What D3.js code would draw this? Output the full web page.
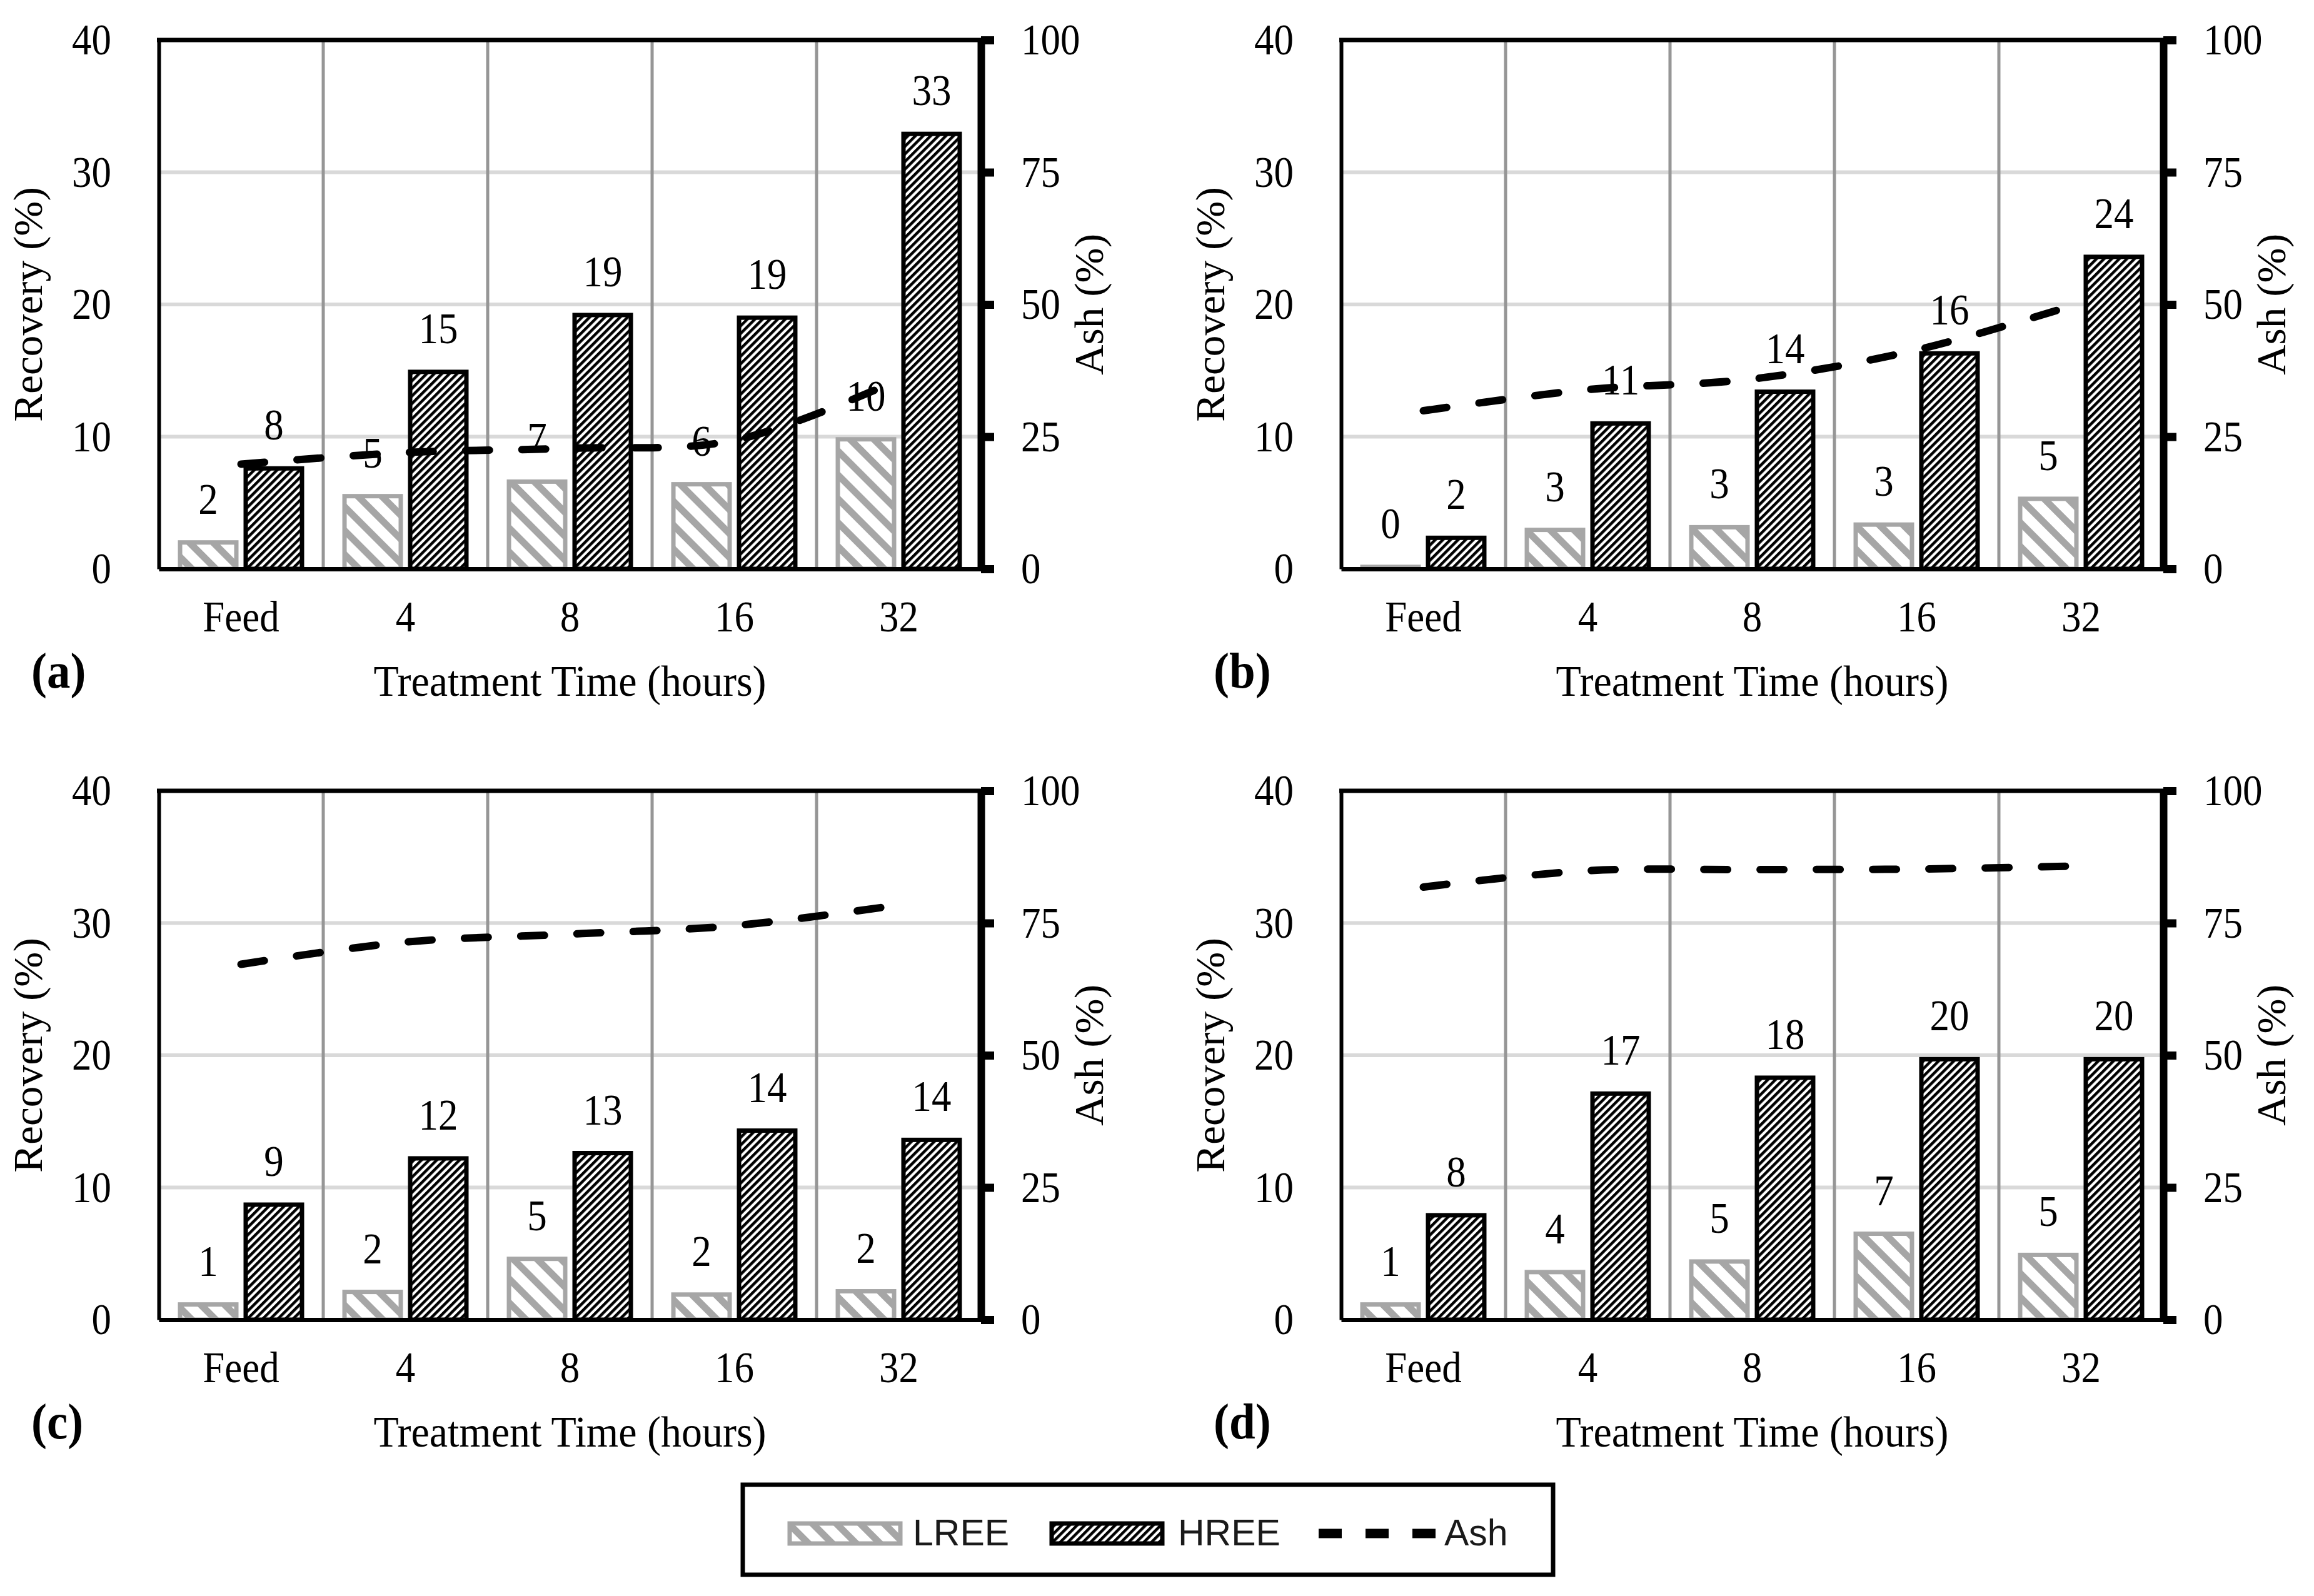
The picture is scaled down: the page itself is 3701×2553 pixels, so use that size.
<!DOCTYPE html>
<html>
<head>
<meta charset="utf-8">
<script src="https://cdn.jsdelivr.net/npm/d3@7"></script>
<style>
  body { margin: 0; background: #fff; }
  svg { display: block; }
</style>
</head>
<body>
<div id="canvas"></div>
<script>
// ---- data ----
const categories = ["Feed", "4", "8", "16", "32"];
const series = ["LREE", "HREE"];
const recoveryTicks = [0, 10, 20, 30, 40];
const ashTicks = [0, 25, 50, 75, 100];
const panelNames = ["(a)", "(b)", "(c)", "(d)"];

const lreeA = [2.0, 5.5, 6.6, 6.4, 9.8];
const hreeA = [7.6, 14.9, 19.2, 19.0, 32.9];
const ashA = [19.8, 22.0, 22.8, 24.3, 35.8];
const lreeLabelA = ["2", "5", "7", "6", "10"];
const hreeLabelA = ["8", "15", "19", "19", "33"];

const lreeB = [0.15, 2.95, 3.15, 3.35, 5.3];
const hreeB = [2.35, 11.0, 13.4, 16.3, 23.6];
const ashB = [29.9, 33.9, 35.9, 41.4, 50.3];
const lreeLabelB = ["0", "3", "3", "3", "5"];
const hreeLabelB = ["2", "11", "14", "16", "24"];

const lreeC = [1.15, 2.1, 4.6, 1.9, 2.15];
const hreeC = [8.7, 12.2, 12.6, 14.3, 13.6];
const ashC = [67.2, 71.4, 72.9, 74.5, 78.4];
const lreeLabelC = ["1", "2", "5", "2", "2"];
const hreeLabelC = ["9", "12", "13", "14", "14"];

const lreeD = [1.15, 3.6, 4.4, 6.5, 4.9];
const hreeD = [7.9, 17.1, 18.3, 19.7, 19.7];
const ashD = [81.8, 84.9, 85.1, 85.2, 85.8];
const lreeLabelD = ["1", "4", "5", "7", "5"];
const hreeLabelD = ["8", "17", "18", "20", "20"];

const panels = [
  { name: panelNames[0], col: 0, row: 0, LREE: lreeA, HREE: hreeA, ash: ashA, labels: { LREE: lreeLabelA, HREE: hreeLabelA } },
  { name: panelNames[1], col: 1, row: 0, LREE: lreeB, HREE: hreeB, ash: ashB, labels: { LREE: lreeLabelB, HREE: hreeLabelB } },
  { name: panelNames[2], col: 0, row: 1, LREE: lreeC, HREE: hreeC, ash: ashC, labels: { LREE: lreeLabelC, HREE: hreeLabelC } },
  { name: panelNames[3], col: 1, row: 1, LREE: lreeD, HREE: hreeD, ash: ashD, labels: { LREE: lreeLabelD, HREE: hreeLabelD } }
];

// ---- layout ----
const width = 3701, height = 2553;
const pLeft = 254, pRight = 1569, pTop = 64, pBottom = 910;
const dx = 1891, dy = 1201;
const K = 1.12; // the figure's text is a bit taller than wide
const serif = "'Liberation Serif', 'Times New Roman', serif";
const fs = 63;
const strokeOf = { LREE: "#a6a6a6", HREE: "#000" };

const svg = d3.select("#canvas").append("svg")
  .attr("width", width).attr("height", height);
svg.append("rect").attr("width", width).attr("height", height).attr("fill", "#fff");

const defs = svg.append("defs");
function stripes(id, angle, size, band, fg, bg) {
  const p = defs.append("pattern").attr("id", id)
    .attr("patternUnits", "userSpaceOnUse")
    .attr("width", size).attr("height", size)
    .attr("patternTransform", `rotate(${angle})`);
  p.append("rect").attr("width", size).attr("height", size).attr("fill", bg);
  p.append("rect").attr("width", band).attr("height", size).attr("fill", fg);
}
stripes("fill-LREE", -45, 27, 11, "#a6a6a6", "#fff");
stripes("fill-HREE", 45, 8.6, 4.5, "#000", "#fff");

const x = d3.scaleBand().domain(categories).range([pLeft, pRight]);
const xs = d3.scaleBand().domain(series).range([0, x.bandwidth()])
  .paddingInner(0.143).paddingOuter(0.324);
const y = d3.scaleLinear().domain([0, 40]).range([pBottom, pTop]);
const yR = d3.scaleLinear().domain([0, 100]).range([pBottom, pTop]);

function label(g, px, py, s, opt = {}) {
  const k = opt.k || K;
  return g.append("text")
    .attr("transform", `translate(${px},${py}) scale(1,${k})` + (opt.rotate ? " rotate(-90)" : ""))
    .attr("text-anchor", opt.anchor || "middle")
    .attr("font-family", serif)
    .attr("font-size", opt.size || fs)
    .attr("font-weight", opt.bold ? "bold" : "normal")
    .attr("fill", "#000")
    .text(s);
}

panels.forEach(p => {
  const g = svg.append("g").attr("transform", `translate(${p.col * dx},${p.row * dy})`);

  // gridlines
  g.selectAll(".hgrid").data([10, 20, 30]).join("line")
    .attr("class", "hgrid")
    .attr("x1", pLeft).attr("x2", pRight)
    .attr("y1", d => y(d)).attr("y2", d => y(d))
    .attr("stroke", "#d9d9d9").attr("stroke-width", 6);
  g.selectAll(".vgrid").data(categories.slice(1)).join("line")
    .attr("class", "vgrid")
    .attr("x1", d => x(d)).attr("x2", d => x(d))
    .attr("y1", pTop).attr("y2", pBottom)
    .attr("stroke", "#969696").attr("stroke-width", 5);

  // bars
  series.forEach(s => {
    g.selectAll(".bar-" + s).data(p[s]).join("rect")
      .attr("class", "bar-" + s)
      .attr("x", (d, i) => x(categories[i]) + xs(s))
      .attr("width", xs.bandwidth())
      .attr("y", d => y(d))
      .attr("height", d => y(0) - y(d))
      .attr("fill", `url(#fill-${s})`)
      .attr("stroke", strokeOf[s]).attr("stroke-width", 7);
  });

  // ash line
  const line = d3.line()
    .x((d, i) => x(categories[i]) + x.bandwidth() / 2)
    .y(d => yR(d))
    .curve(d3.curveCatmullRom.alpha(0.5));
  g.append("path").datum(p.ash)
    .attr("d", line)
    .attr("fill", "none").attr("stroke", "#000")
    .attr("stroke-width", 12)
    .attr("stroke-dasharray", "38,52")
    .attr("stroke-linecap", "round");

  // data labels
  series.forEach(s => {
    p[s].forEach((v, i) => {
      label(g, x(categories[i]) + xs(s) + xs.bandwidth() / 2, y(v) - 46, p.labels[s][i]);
    });
  });

  // top border
  g.append("line").attr("x1", pLeft - 3).attr("x2", pRight)
    .attr("y1", y(40)).attr("y2", y(40))
    .attr("stroke", "#000").attr("stroke-width", 7);

  // left axis
  const axL = g.append("g").attr("transform", `translate(${pLeft},0)`)
    .call(d3.axisLeft(y).tickValues(recoveryTicks).tickSize(0).tickSizeOuter(0).tickPadding(76));
  axL.attr("font-family", serif).attr("font-size", fs);
  axL.select(".domain").attr("stroke-width", 6);
  axL.selectAll("text").attr("fill", "#000").attr("transform", `scale(1,${K})`);

  // bottom axis
  const axB = g.append("g").attr("transform", `translate(0,${pBottom})`)
    .call(d3.axisBottom(x).tickSize(0).tickSizeOuter(0));
  axB.attr("font-family", serif).attr("font-size", fs);
  axB.select(".domain").attr("stroke-width", 7);
  axB.selectAll("text").attr("fill", "#000")
    .attr("y", null).attr("dy", null)
    .attr("transform", `translate(0,100) scale(1,${K})`);

  // right axis
  const axR = g.append("g").attr("transform", `translate(${pRight},0)`)
    .call(d3.axisRight(yR).tickValues(ashTicks).tickSize(21).tickSizeOuter(0).tickPadding(43));
  axR.attr("font-family", serif).attr("font-size", fs);
  axR.select(".domain").attr("stroke-width", 12);
  axR.selectAll(".tick line").attr("stroke-width", 13);
  axR.selectAll("text").attr("fill", "#000").attr("transform", `scale(1,${K})`);

  // titles
  label(g, (pLeft + pRight) / 2, 1113, "Treatment Time (hours)", { size: 66, k: 1.07 });
  label(g, 67, (pTop + pBottom) / 2, "Recovery (%)", { rotate: true, size: 66, k: 1.02 });
  label(g, 1764, (pTop + pBottom) / 2, "Ash (%)", { rotate: true, size: 66, k: 1.02 });
  label(g, 50, 1100, p.name, { anchor: "start", bold: true, size: 75, k: 1.08 });
});

// ---- legend ----
const lg = svg.append("g");
lg.append("rect").attr("x", 1188).attr("y", 2375).attr("width", 1296).attr("height", 144)
  .attr("fill", "#fff").attr("stroke", "#000").attr("stroke-width", 7);
const legendItems = [
  { key: "LREE", sx: 1263, tx: 1460 },
  { key: "HREE", sx: 1682, tx: 1884 },
  { key: "Ash", sx: 2109, tx: 2310 }
];
legendItems.forEach(it => {
  if (it.key === "Ash") {
    lg.append("line").attr("x1", it.sx).attr("x2", it.sx + 187)
      .attr("y1", 2453).attr("y2", 2453)
      .attr("stroke", "#000").attr("stroke-width", 15)
      .attr("stroke-dasharray", "37,38");
  } else {
    lg.append("rect").attr("x", it.sx).attr("y", 2437).attr("width", 177).attr("height", 32)
      .attr("fill", `url(#fill-${it.key})`)
      .attr("stroke", strokeOf[it.key]).attr("stroke-width", 7);
  }
  lg.append("text").attr("x", it.tx).attr("y", 2472)
    .attr("font-family", "'Liberation Sans', Arial, sans-serif")
    .attr("font-size", 59).attr("fill", "#1a1a1a")
    .text(it.key);
});
</script>
</body>
</html>
